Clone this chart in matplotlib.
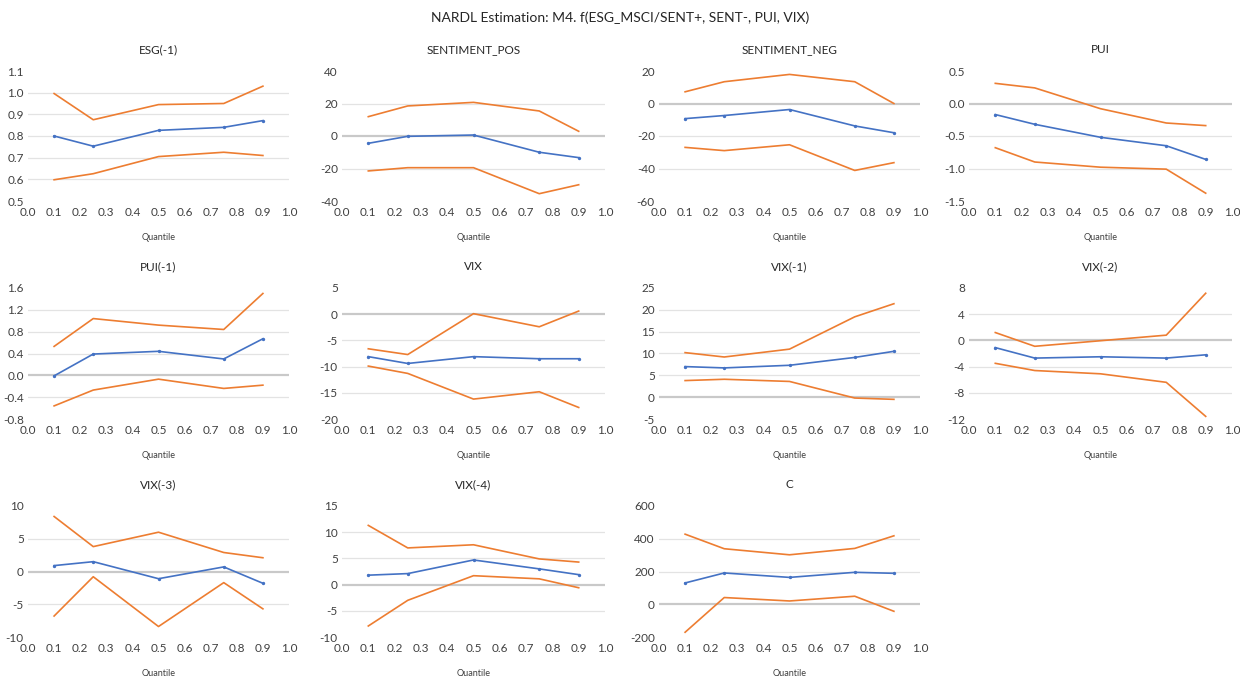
import matplotlib
matplotlib.use("Agg")
import matplotlib.pyplot as plt

plt.rcParams['font.family'] = ['Lato', 'DejaVu Sans']

quantiles = [0.1, 0.25, 0.5, 0.75, 0.9]

titles = ["ESG(-1)", "SENTIMENT_POS", "SENTIMENT_NEG", "PUI",
          "PUI(-1)", "VIX", "VIX(-1)", "VIX(-2)",
          "VIX(-3)", "VIX(-4)", "C"]

# point estimates per quantile
coef = [
    [0.80, 0.753, 0.826, 0.84, 0.871],
    [-4.5, -0.2, 0.6, -10.0, -13.3],
    [-9.3, -7.4, -3.7, -13.8, -18.0],
    [-0.17, -0.32, -0.52, -0.65, -0.86],
    [-0.01, 0.39, 0.44, 0.30, 0.67],
    [-8.1, -9.4, -8.1, -8.5, -8.5],
    [7.0, 6.7, 7.3, 9.1, 10.5],
    [-1.1, -2.7, -2.5, -2.7, -2.2],
    [0.9, 1.5, -1.1, 0.7, -1.8],
    [1.8, 2.1, 4.7, 3.0, 1.9],
    [130, 191, 164, 195, 189],
]

# upper confidence bound
upper = [
    [0.996, 0.875, 0.945, 0.95, 1.03],
    [11.9, 18.5, 20.7, 15.4, 2.9],
    [7.2, 13.4, 17.9, 13.4, 0.0],
    [0.31, 0.24, -0.08, -0.30, -0.34],
    [0.53, 1.04, 0.92, 0.84, 1.50],
    [-6.6, -7.7, 0.1, -2.4, 0.6],
    [10.2, 9.2, 11.0, 18.4, 21.4],
    [1.2, -0.9, -0.05, 0.8, 7.2],
    [8.4, 3.8, 6.0, 2.9, 2.1],
    [11.3, 7.0, 7.6, 4.9, 4.3],
    [428, 339, 302, 341, 418],
]

# lower confidence bound
lower = [
    [0.598, 0.626, 0.705, 0.725, 0.71],
    [-21.5, -19.5, -19.5, -35.5, -30.0],
    [-27.0, -29.0, -25.4, -41.2, -36.4],
    [-0.68, -0.90, -0.98, -1.01, -1.38],
    [-0.56, -0.27, -0.07, -0.24, -0.18],
    [-9.9, -11.3, -16.2, -14.8, -17.8],
    [3.8, 4.1, 3.6, -0.2, -0.5],
    [-3.5, -4.6, -5.1, -6.4, -11.6],
    [-6.8, -0.8, -8.4, -1.7, -5.7],
    [-7.9, -3.0, 1.7, 1.1, -0.6],
    [-171, 41, 20, 49, -43],
]

# y-axis ticks per panel
yticks = [
    [0.5, 0.6, 0.7, 0.8, 0.9, 1.0, 1.1],
    [-40, -20, 0, 20, 40],
    [-60, -40, -20, 0, 20],
    [-1.5, -1.0, -0.5, 0.0, 0.5],
    [-0.8, -0.4, 0.0, 0.4, 0.8, 1.2, 1.6],
    [-20, -15, -10, -5, 0, 5],
    [-5, 0, 5, 10, 15, 20, 25],
    [-12, -8, -4, 0, 4, 8],
    [-10, -5, 0, 5, 10],
    [-10, -5, 0, 5, 10, 15],
    [-200, 0, 200, 400, 600],
]
ytick_fmt = ["{:.1f}", "{:.0f}", "{:.0f}", "{:.1f}", "{:.1f}", "{:.0f}",
             "{:.0f}", "{:.0f}", "{:.0f}", "{:.0f}", "{:.0f}"]

xticks = [0.0, 0.1, 0.2, 0.3, 0.4, 0.5, 0.6, 0.7, 0.8, 0.9, 1.0]

BLUE = "#4472C4"
ORANGE = "#ED7D31"
GRID = "#e3e3e3"
ZERO = "#c9c9c9"
TEXT = "#404040"

W, H = 1240, 676
fig = plt.figure(figsize=(W / 100, H / 100), dpi=100)

# plot-area extents in pixels
cols = [(28, 289), (342, 605), (659, 920), (969, 1232)]
rows = [(71, 201), (288, 419), (506, 637)]

fig.text(0.5, 1 - 18 / H, "NARDL Estimation: M4. f(ESG_MSCI/SENT+, SENT-, PUI, VIX)",
         ha="center", va="center", fontsize=10, color="#262626")

for i, name in enumerate(titles):
    r, c = divmod(i, 4)
    x0, x1 = cols[c]
    top, bot = rows[r]
    ax = fig.add_axes([x0 / W, 1 - bot / H, (x1 - x0) / W, (bot - top) / H])
    yt = yticks[i]
    ax.set_xlim(0, 1)
    ax.set_ylim(yt[0], yt[-1])
    for s in ax.spines.values():
        s.set_visible(False)
    for v in yt[1:-1]:
        if abs(v) < 1e-12:
            ax.axhline(v, color=ZERO, lw=1.6, zorder=1)
        else:
            ax.axhline(v, color=GRID, lw=0.9, zorder=1)
    ax.plot(quantiles, upper[i], color=ORANGE, lw=1.2, zorder=3)
    ax.plot(quantiles, lower[i], color=ORANGE, lw=1.2, zorder=3)
    ax.plot(quantiles, coef[i], color=BLUE, lw=1.2, marker="o", ms=1.4,
            zorder=4)
    ax.set_yticks(yt)
    ax.set_yticklabels([ytick_fmt[i].format(v) for v in yt])
    ax.set_xticks(xticks)
    ax.set_xticklabels(["{:.1f}".format(v) for v in xticks])
    ax.tick_params(axis="both", length=0, labelsize=8.5, colors=TEXT)
    ax.tick_params(axis="y", pad=3)
    ax.tick_params(axis="x", pad=4)
    ax.set_title(name, fontsize=8.5, color="#262626", pad=13)
    ax.set_xlabel("Quantile", fontsize=6.5, color=TEXT, labelpad=11)

fig.savefig("out.png", dpi=100)
